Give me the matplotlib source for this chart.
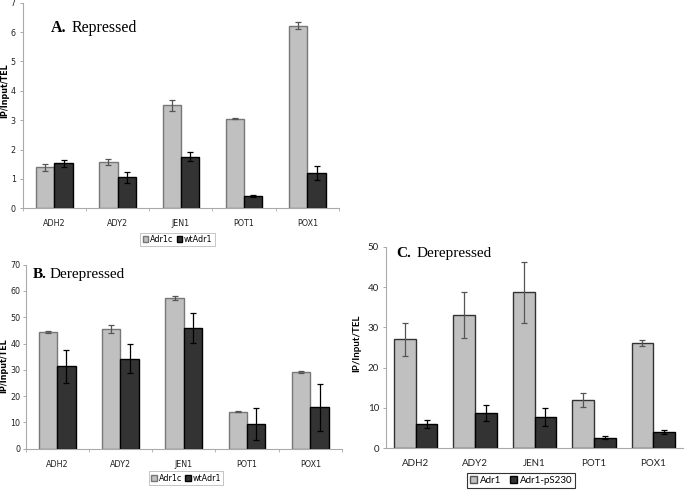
import matplotlib
matplotlib.use('Agg')
import matplotlib.pyplot as plt
from matplotlib.patches import Patch
import numpy as np

genes = ['ADH2', 'ADY2', 'JEN1', 'POT1', 'POX1']

# A. Repressed
a_adr1c = [1.39, 1.59, 3.50, 3.05, 6.22]
a_adr1c_err = [0.12, 0.10, 0.18, 0.02, 0.13]
a_wt = [1.53, 1.05, 1.76, 0.43, 1.21]
a_wt_err = [0.12, 0.20, 0.14, 0.03, 0.23]

# B. Derepressed
b_adr1c = [44.4, 45.7, 57.3, 14.1, 29.2]
b_adr1c_err = [0.2, 1.5, 0.9, 0.1, 0.5]
b_wt = [31.3, 34.2, 46.1, 9.3, 15.7]
b_wt_err = [6.4, 5.5, 5.7, 6.1, 9.0]

# C. Derepressed
c_adr1 = [27.0, 33.0, 38.7, 12.0, 26.1]
c_adr1_err = [4.1, 5.7, 7.6, 1.7, 0.7]
c_ps230 = [6.0, 8.8, 7.8, 2.6, 4.05]
c_ps230_err = [0.9, 2.0, 2.3, 0.4, 0.5]

light = '#c0c0c0'
dark = '#333333'
W, H = 685, 490

fig = plt.figure(figsize=(6.85, 4.9), dpi=100)


def px_axes(left, right, top, bottom):
    return fig.add_axes([left / W, (H - bottom) / H, (right - left) / W, (bottom - top) / H])


def style(ax, ymax, step, font, fs, ylabel_xy, pad=3):
    x = np.arange(len(genes))
    ax.set_xlim(-0.5, len(genes) - 0.5)
    ax.set_ylim(0, ymax)
    ax.set_yticks(np.arange(0, ymax + 0.01, step))
    ax.set_xticks(x)
    ax.set_xticklabels(genes, fontsize=fs, family=font, color='#222222')
    ax.set_xticks(np.arange(-0.5, len(genes) + 0.5, 1), minor=True)
    ax.tick_params(axis='x', which='major', length=0, pad=8)
    ax.tick_params(axis='x', which='minor', length=2.5, color='#aaaaaa', width=0.6)
    ax.tick_params(axis='y', length=2, color='#999999', width=0.6, labelsize=fs, pad=pad,
                   labelcolor='#222222')
    for lab in ax.get_yticklabels():
        lab.set_family(font)
    for s in ['top', 'right']:
        ax.spines[s].set_visible(False)
    for s in ['left', 'bottom']:
        ax.spines[s].set_color('#aaaaaa')
        ax.spines[s].set_linewidth(0.8)
    ax.set_ylabel('IP/Input/TEL', fontsize=fs, fontweight='bold', family=font)
    ax.yaxis.set_label_coords(*ylabel_xy)


def bars(ax, v1, e1, v2, e2, bw, edge1):
    x = np.arange(len(genes))
    ax.bar(x - bw / 2, v1, bw, color=light, edgecolor=edge1, linewidth=1.0, zorder=2)
    ax.bar(x + bw / 2, v2, bw, color=dark, edgecolor='black', linewidth=1.0, zorder=2)
    ax.errorbar(x - bw / 2, v1, yerr=e1, fmt='none', ecolor='#555555', elinewidth=0.9,
                capsize=2, capthick=0.9, zorder=3)
    ax.errorbar(x + bw / 2, v2, yerr=e2, fmt='none', ecolor='black', elinewidth=0.9,
                capsize=2, capthick=0.9, zorder=3)


# Panel A
axA = px_axes(22.7, 339, 2.7, 208.3)
bars(axA, a_adr1c, a_adr1c_err, a_wt, a_wt_err, 0.29, '#777777')
style(axA, 7, 1, 'DejaVu Sans', 5.8, (-(22.7 - 9.0) / 316.3, 0.57))
legA = axA.legend(handles=[Patch(facecolor=light, edgecolor='#777777', label='Adr1c'),
                           Patch(facecolor=dark, edgecolor='black', label='wtAdr1')],
                  loc='center', bbox_to_anchor=((177.5 - 22.7) / 316.3, -(239.5 - 208.3) / 205.6),
                  ncol=2, handlelength=0.7, handleheight=0.7, handletextpad=0.2,
                  columnspacing=0.4, borderpad=0.3, fancybox=False, framealpha=1,
                  prop={'family': 'DejaVu Sans', 'size': 5.8})
legA.get_frame().set_edgecolor('#bbbbbb')
legA.get_frame().set_linewidth(0.6)

# Panel B
axB = px_axes(25.5, 342, 264.7, 448.7)
bars(axB, b_adr1c, b_adr1c_err, b_wt, b_wt_err, 0.29, '#777777')
style(axB, 70, 10, 'DejaVu Sans', 5.8, (-(25.5 - 8.5) / 316.5, 0.45), pad=1.5)
legB = axB.legend(handles=[Patch(facecolor=light, edgecolor='#777777', label='Adr1c'),
                           Patch(facecolor=dark, edgecolor='black', label='wtAdr1')],
                  loc='center', bbox_to_anchor=((186 - 25.5) / 316.5, -(478 - 448.7) / 184),
                  ncol=2, handlelength=0.7, handleheight=0.7, handletextpad=0.2,
                  columnspacing=0.4, borderpad=0.3, fancybox=False, framealpha=1,
                  prop={'family': 'DejaVu Sans', 'size': 5.8})
legB.get_frame().set_edgecolor('#bbbbbb')
legB.get_frame().set_linewidth(0.6)

# Panel C
axC = px_axes(386, 683, 246.7, 448.3)
bars(axC, c_adr1, c_adr1_err, c_ps230, c_ps230_err, 0.366, '#333333')
style(axC, 50, 10, 'Lato', 7, (-0.082, 0.52))
axC.tick_params(axis='x', which='minor', length=0)
legC = axC.legend(handles=[Patch(facecolor=light, edgecolor='#555555', label='Adr1'),
                           Patch(facecolor=dark, edgecolor='black', label='Adr1-pS230')],
                  loc='center', bbox_to_anchor=((521 - 386) / 297, -(480.5 - 448.3) / 201.6),
                  ncol=2, handlelength=0.7, handleheight=0.7, handletextpad=0.3,
                  columnspacing=0.9, borderpad=0.35, fancybox=False, framealpha=1,
                  prop={'family': 'Lato', 'size': 7})
legC.get_frame().set_edgecolor('#333333')
legC.get_frame().set_linewidth(0.8)

# Panel titles
titles = [('A.', 'Repressed', 50.7, 71.7, 32.3, 11.5),
          ('B.', 'Derepressed', 32.7, 50.0, 278.3, 11),
          ('C.', 'Derepressed', 396.7, 416.7, 256.7, 11)]
for lead, rest, x1, x2, yb, fs in titles:
    fig.text(x1 / W, (H - yb) / H, lead, fontsize=fs, fontweight='bold',
             family='Liberation Serif', ha='left', va='baseline')
    fig.text(x2 / W, (H - yb) / H, rest, fontsize=fs, family='Liberation Serif',
             ha='left', va='baseline')

fig.savefig('out.png', dpi=100)
